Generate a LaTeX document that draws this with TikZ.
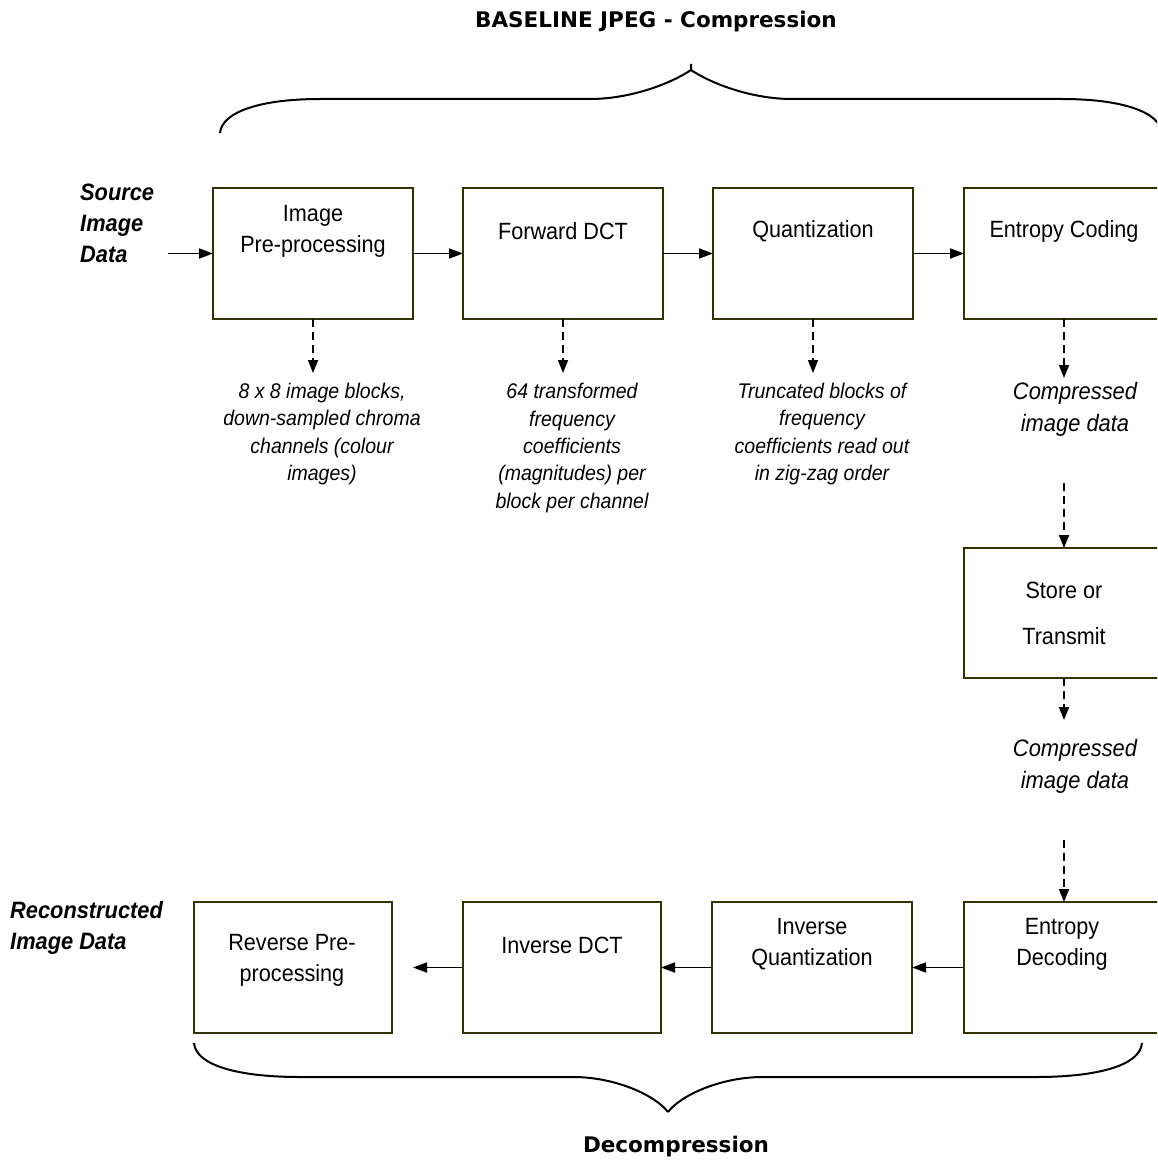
\documentclass[tikz,border=0pt]{standalone}
\usepackage{fontspec}
\setmainfont{Liberation Sans}[FakeStretch=0.92]
\newfontfamily\headfont{DejaVu Sans}
\usetikzlibrary{arrows.meta}

\definecolor{boxline}{RGB}{51,51,0}

\tikzset{
  blockbox/.style={draw=boxline, line width=2pt, minimum width=200pt,
    minimum height=131pt, anchor=north west, inner sep=0pt, outer sep=0pt},
  blocktext/.style={align=center, inner sep=0pt,
    font=\fontsize{23.5}{31}\selectfont},
  flow/.style={line width=1.8pt, -{Triangle[length=14pt,width=10pt]}},
  dflow/.style={line width=1.8pt, dash pattern=on 8pt off 5pt,
    -{Triangle[length=13pt,width=10pt]}},
  note/.style={align=center, inner sep=0pt,
    font=\itshape\fontsize{21.2}{27.3}\selectfont},
  bignote/.style={align=center, inner sep=0pt,
    font=\itshape\fontsize{23.8}{32}\selectfont},
  side/.style={align=left, inner sep=0pt, anchor=west,
    font=\bfseries\itshape\fontsize{23.7}{31}\selectfont},
  heading/.style={inner sep=0pt,
    font=\headfont\bfseries\fontsize{21.5}{24}\selectfont},
  brace/.style={line width=2pt},
}

\begin{document}
\begin{tikzpicture}[x=1pt, y=-1pt]
\useasboundingbox (0,0) rectangle (1157,1161);
\clip (0,0) rectangle (1157,1161);

% ---- compression chain ----
\node[blockbox] (pre) at (213,188) {};
\node[blockbox] (fdct) at (463,188) {};
\node[blockbox] (quant) at (713,188) {};
\node[blockbox] (enc) at (964,188) {};
\node[blocktext] (preT) at (313,231.5) {Image\\Pre-processing};
\node[blocktext] (fdctT) at (563,231.5) {Forward DCT};
\node[blocktext] (quantT) at (813,231.5) {Quantization};
\node[blocktext] (encT) at (1064,231.5) {Entropy Coding};

\node[side] (src) at (80,223) {Source\\Image\\Data};
\coordinate (srcin) at ([xshift=-45pt]pre.west);
\draw[flow] (srcin) -- (pre.west);
\draw[flow] (pre.east) -- (fdct.west);
\draw[flow] (fdct.east) -- (quant.west);
\draw[flow] (quant.east) -- (enc.west);

% ---- intermediate data descriptions ----
\coordinate (preD) at ([yshift=-54pt]pre.south);
\coordinate (fdctD) at ([yshift=-54pt]fdct.south);
\coordinate (quantD) at ([yshift=-54pt]quant.south);
\coordinate (encD) at ([yshift=-59pt]enc.south);
\draw[dflow] (pre.south) -- (preD);
\draw[dflow] (fdct.south) -- (fdctD);
\draw[dflow] (quant.south) -- (quantD);
\draw[dflow] (enc.south) -- (encD);

\node[note] (preN) at (322,434) {8 x 8 image blocks,\\down-sampled chroma\\channels (colour\\images)};
\node[note] (fdctN) at (572,448) {64 transformed\\frequency\\coefficients\\(magnitudes) per\\block per channel};
\node[note] (quantN) at (822,434) {Truncated blocks of\\frequency\\coefficients read out\\in zig-zag order};
\node[bignote] (encN) at (1075,409) {Compressed\\image data};

% ---- storage / transmission ----
\node[blockbox, minimum height=130pt] (store) at (964,548) {};
\node[blocktext, font=\fontsize{23.5}{46}\selectfont] (storeT) at (1064,613) {Store or\\Transmit};
\coordinate (storeIn) at ([yshift=65pt]store.north);
\draw[dflow] (storeIn) -- (store.north);
\coordinate (storeD) at ([yshift=-42pt]store.south);
\draw[dflow] (store.south) -- (storeD);
\node[bignote] (storeN) at (1075,766) {Compressed\\image data};

% ---- decompression chain ----
\node[blockbox, minimum width=198pt] (rpre) at (194,902) {};
\node[blockbox, minimum width=198pt] (idct) at (463,902) {};
\node[blockbox] (iquant) at (712,902) {};
\node[blockbox] (dec) at (964,902) {};
\node[blocktext] (rpreT) at (292,960) {Reverse Pre-\\processing};
\node[blocktext] (idctT) at (562,945) {Inverse DCT};
\node[blocktext] (iquantT) at (812,944.5) {Inverse\\Quantization};
\node[blocktext] (decT) at (1062,944.5) {Entropy\\Decoding};

\coordinate (decIn) at ([yshift=62pt]dec.north);
\draw[dflow] (decIn) -- (dec.north);
\draw[flow] (dec.west) -- (iquant.east);
\draw[flow] (iquant.west) -- (idct.east);
\coordinate (rpreIn) at ([xshift=-50pt]idct.west);
\draw[flow] (idct.west) -- (rpreIn);

\node[side] (rec) at (10,928) {Reconstructed\\Image Data};

% ---- braces and headings ----
\draw[brace] (220,133) .. controls (222,112) and (260,99) .. (320,99)
  -- (590,99) .. controls (630,99) and (670,84) .. (691,70) -- (691,64);
\draw[brace] (691,70) .. controls (712,84) and (752,99) .. (792,99)
  -- (1062,99) .. controls (1122,99) and (1160,112) .. (1162,133);
\node[heading] (title) at (656,22) {BASELINE JPEG - Compression};

\draw[brace] (194,1043) .. controls (196,1066) and (240,1077) .. (300,1077)
  -- (573,1077) .. controls (615,1077) and (655,1095) .. (668,1112);
\draw[brace] (668,1112) .. controls (681,1095) and (721,1077) .. (763,1077)
  -- (1036,1077) .. controls (1096,1077) and (1140,1066) .. (1142,1043);
\node[heading] (decomp) at (676,1147) {Decompression};
\end{tikzpicture}
\end{document}
